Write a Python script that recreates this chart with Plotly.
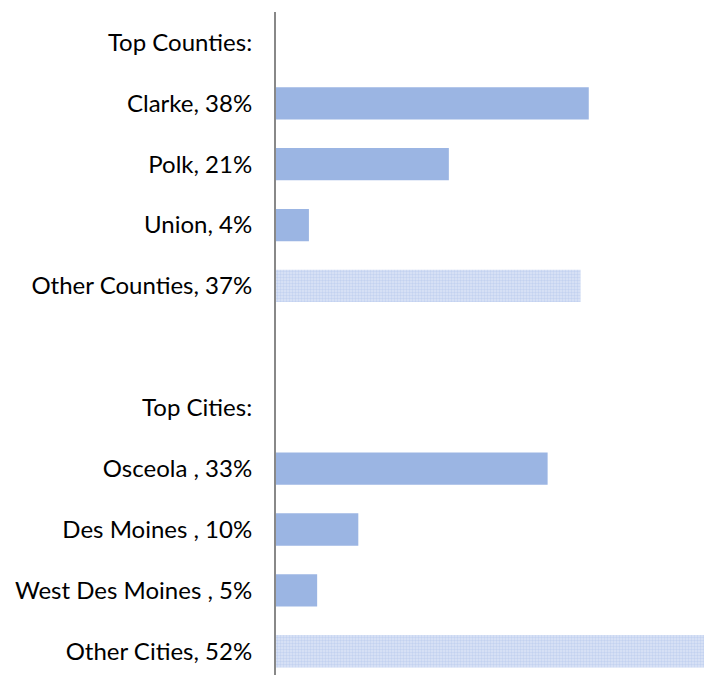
import plotly.graph_objects as go

labels = ["Top Counties:", "Clarke, 38%", "Polk, 21%", "Union, 4%", "Other Counties, 37%", "",
          "Top Cities:", "Osceola , 33%", "Des Moines , 10%", "West Des Moines , 5%", "Other Cities, 52%"]
solid_pos = [1, 2, 3, 7, 8, 9]
solid_vals = [38, 21, 4, 33, 10, 5]
other_pos = [4, 10]
other_vals = [37, 52]

fig = go.Figure()
fig.add_trace(go.Bar(x=solid_vals, y=solid_pos, orientation="h", width=0.53,
                     marker=dict(color="#9BB5E3", line=dict(width=0))))
fig.add_trace(go.Bar(x=other_vals, y=other_pos, orientation="h", width=0.53,
                     marker=dict(color="#FFFFFF", line=dict(width=0),
                                 pattern=dict(shape=".", fgcolor="#A9C0EA", bgcolor="#DCE5F6",
                                              size=3, solidity=0.5))))

fig.update_layout(
    width=704, height=675,
    margin=dict(l=276, r=0, t=12, b=0, autoexpand=False),
    plot_bgcolor="white", paper_bgcolor="white",
    showlegend=False, barmode="overlay",
    font=dict(family="Lato, sans-serif", size=24, color="#000000"),
)
fig.update_xaxes(range=[0, 52], showticklabels=False, showgrid=False, zeroline=False,
                 fixedrange=True, automargin=False)
fig.update_yaxes(range=[10.39, -0.5], tickmode="array", tickvals=list(range(len(labels))), ticktext=labels,
                 showgrid=False, zeroline=False, showline=True, linecolor="#888888", linewidth=2,
                 ticks="", ticklabelstandoff=17, automargin=False)
fig.write_html("out.html", config={"displayModeBar": False},
               post_script="document.body.style.margin='0';document.body.style.overflow='hidden';")
